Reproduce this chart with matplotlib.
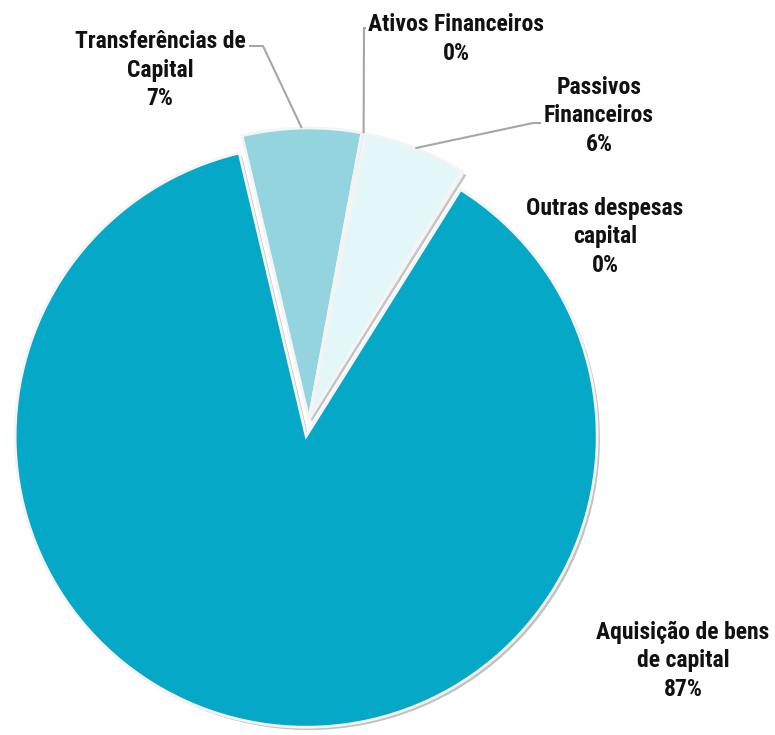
import numpy as np
import matplotlib
matplotlib.use("Agg")
import matplotlib.pyplot as plt
import matplotlib.patheffects as pe
from matplotlib import font_manager as fm

# ─── Data ─────────────────────────────────────────────────────────────────────
categories = ["Transferências de\nCapital", "Ativos Financeiros", "Passivos\nFinanceiros",
              "Outras despesas\ncapital", "Aquisição de bens\nde capital"]
shares = [6.6, 0.2, 5.7, 0.1, 87.4]
colors = ["#93D4DE", "#C6ECF1", "#E3F6F8", "#0A8BA2", "#05A9C7"]
explode = [0, 0, 0, 0, 0.06]

# ─── Layout (pixels of a 775x735 canvas) ─────────────────────────────────────
W, H = 775, 735
CX, CY, R = 309, 419, 291          # pie centre and radius in pixels
START = 103.3                       # start angle, clockwise


def px(x, y):
    return (x - CX) / R, (CY - y) / R


label_pos = [(160, 70), (456, 39), (599, 116), (605, 237), (683, 661)]
# leader line elbows (None = no leader line)
elbows = [(263, 46), (364, 28), (533, 123), None, None]
line_ends = [(249, 46), (366, 28), (541, 123), None, None]

# narrow bold font, close to Arial Narrow
installed = {f.name for f in fm.fontManager.ttflist}
prefs = ["Roboto Condensed", "Fira Sans Condensed", "Barlow Semi Condensed",
         "Encode Sans Semi Condensed", "Archivo Narrow"]
family = [n for n in prefs if n in installed][:1] + ["DejaVu Sans"]
plt.rcParams["font.family"] = family

fig = plt.figure(figsize=(W / 100, H / 100), dpi=100)
ax = fig.add_axes([0, 0, 1, 1])

wedges, _ = ax.pie(shares, colors=colors, explode=explode, startangle=START,
                   counterclock=False, radius=1.0,
                   wedgeprops=dict(edgecolor="#F4F4F4", linewidth=2.0))
for w in wedges:
    w.set_path_effects([pe.SimplePatchShadow(offset=(2, -2), shadow_rgbFace="#9A9A9A", alpha=0.6),
                        pe.Normal()])
ax.set_aspect("auto")
ax.set_xlim(-CX / R, (W - CX) / R)
ax.set_ylim((CY - H) / R, CY / R)
ax.axis("off")

total = sum(shares)
for i, (name, val) in enumerate(zip(categories, shares)):
    # label text
    tx, ty = px(*label_pos[i])
    ax.text(tx, ty, f"{name}\n{round(val / total * 100):.0f}%", ha="center", va="center",
            multialignment="center", fontsize=17, fontweight="bold",
            color="#111111", linespacing=1.3)
    # leader line from wedge mid-angle to label
    if elbows[i] is not None:
        w = wedges[i]
        mid = np.deg2rad((w.theta1 + w.theta2) / 2)
        ox, oy = w.center
        ex, ey = px(*elbows[i])
        lx, ly = px(*line_ends[i])
        ax.plot([ox + np.cos(mid), ex, lx], [oy + np.sin(mid), ey, ly],
                color="#A6A6A6", linewidth=1.5, solid_capstyle="butt")

fig.savefig("out.png", dpi=100, facecolor="white")
